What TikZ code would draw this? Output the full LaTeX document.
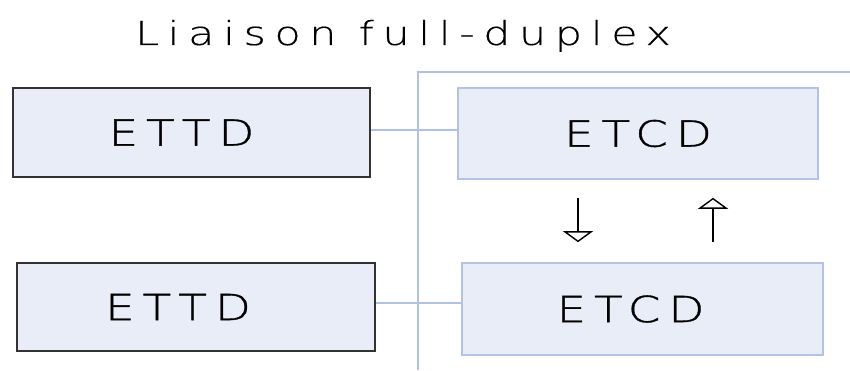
\documentclass[tikz,border=0pt]{standalone}
\usepackage{fontspec}
\usetikzlibrary{arrows.meta}
\newfontfamily\titlefont{DejaVu Sans ExtraLight}[LetterSpace=26, FakeStretch=1.3, FakeBold=0.3]
\newfontfamily\boxfont{DejaVu Sans ExtraLight}[LetterSpace=22, FakeStretch=1.3, FakeBold=1.0]
\definecolor{boxfill}{HTML}{E9EDF7}
\definecolor{etcdline}{HTML}{B4C3E3}
\definecolor{wire}{HTML}{B0C1E3}
\definecolor{ettdline}{HTML}{333333}
\tikzset{
  ettdbox/.style={draw=ettdline, line width=1.6pt, fill=boxfill, minimum height=89pt,
    inner sep=0pt, font=\boxfont\fontsize{36}{42}\selectfont},
  etcdbox/.style={draw=etcdline, line width=1.6pt, fill=boxfill, minimum height=91pt,
    inner sep=0pt, font=\boxfont\fontsize{36}{42}\selectfont},
  wireline/.style={draw=wire, line width=1.8pt},
  flow/.style={line width=1.4pt, -{Triangle[open, width=30pt, length=11pt, line width=1.4pt]}}
}
% label sitting a little left of the box centre
\newcommand{\leftish}[2]{#1\kern#2}
\begin{document}
\begin{tikzpicture}[x=1pt, y=1pt]
\useasboundingbox (0,0) rectangle (850,370);
\fill[white] (0,0) rectangle (850,370);

% heading
\node[anchor=base, inner sep=0pt, font=\titlefont\fontsize{33}{38}\selectfont]
  (title) at (403,325) {Liaison full-duplex};

% frame line of the transmission side
\coordinate (frameTop) at (418,298);
\coordinate (frameBot) at (418,0);
\coordinate (frameEnd) at (850,298);
\draw[wireline] (frameBot) -- (frameTop) -- (frameEnd);

% terminal equipment
\node[ettdbox, minimum width=357pt] (ettd1) at (191.5,237.5) {\leftish{ETTD}{20pt}};
\node[ettdbox, minimum width=358pt, minimum height=88pt] (ettd2) at (196,63) {\leftish{ETTD}{36pt}};

% circuit equipment
\node[etcdbox, minimum width=360pt] (etcd1) at (638,236.5) {ETCD};
\node[etcdbox, minimum width=361pt, minimum height=92pt] (etcd2) at (642.5,61) {\leftish{ETCD}{24pt}};

% links
\draw[wireline] ([yshift=2.5pt]ettd1.east) -- ([yshift=2.5pt]ettd1.east -| etcd1.west);
\draw[wireline] ([yshift=4pt]ettd2.east) -- ([yshift=4pt]ettd2.east -| etcd2.west);

% both directions at once
\draw[flow, shorten <=18pt, shorten >=20pt]
  ([xshift=-60pt]etcd1.south) -- ([xshift=-60pt]etcd1.south |- etcd2.north);
\draw[flow, shorten <=20pt, shorten >=18pt]
  ([xshift=75pt]etcd1.south |- etcd2.north) -- ([xshift=75pt]etcd1.south);
\end{tikzpicture}
\end{document}
